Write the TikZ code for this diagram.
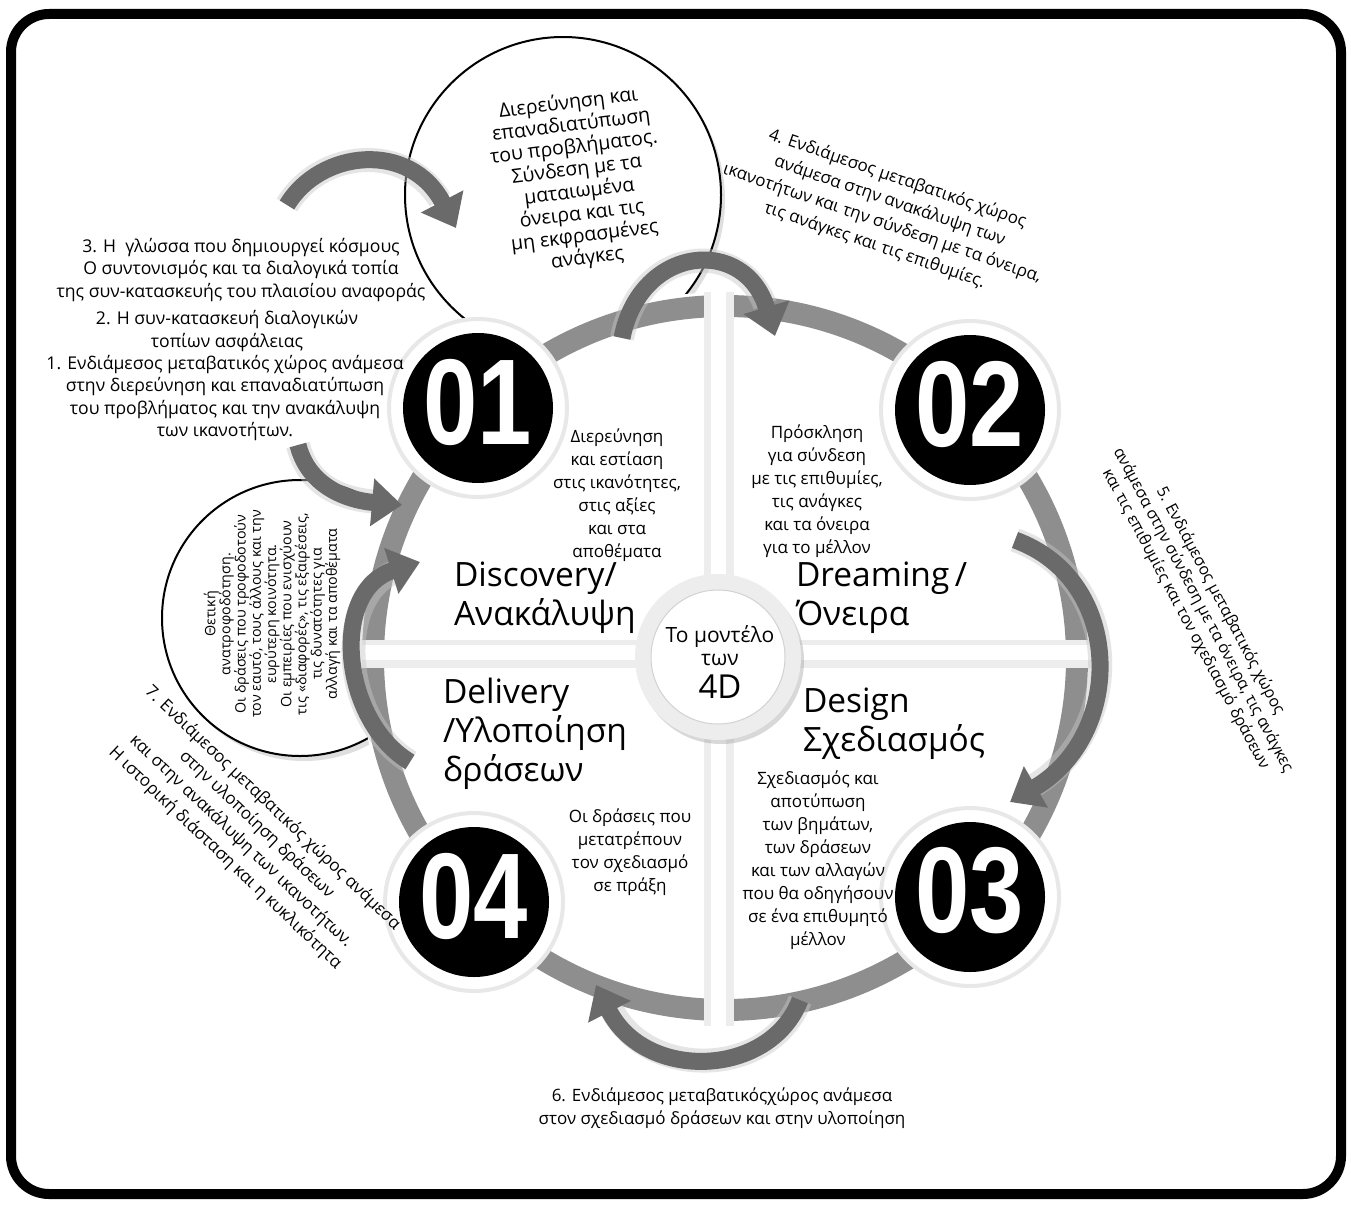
\documentclass[tikz,border=0pt]{standalone}
\usepackage{fontspec}
\setmainfont{Open Sans}
\newfontfamily\numfont{Liberation Sans}
\usetikzlibrary{arrows.meta,shadows}
\definecolor{ringgray}{HTML}{8E8E8E}
\definecolor{brushgray}{HTML}{6A6A6A}
\begin{document}
\begin{tikzpicture}[x=1pt,y=-1pt,
  every node/.style={inner sep=0pt, outer sep=0pt},
  txt/.style={align=center, font=\fontsize{17.6}{22.3}\selectfont},
  desc/.style={align=center, font=\fontsize{17}{23}\selectfont},
  ttl/.style={align=left, anchor=west, font=\fontsize{33.5}{39}\selectfont},
  halo/.style={circle, fill=white, draw=gray!18, line width=4pt, minimum size=178pt},
  numdisk/.style={circle, fill=black, minimum size=150pt},
  numtxt/.style={text=white, font=\numfont\bfseries\fontsize{122}{122}\selectfont},
  brush/.style={draw=brushgray, line width=17pt, -{Triangle[length=30pt,width=46pt]}},
  fuzz/.style={draw=gray!45, line width=24pt, opacity=0.45},
  bubble/.style={circle, draw=black, line width=2pt, fill=white,
    drop shadow={opacity=0.25, shadow xshift=4pt, shadow yshift=-5pt}},
]
\fill[white] (0,0) rectangle (1351,1204);
\useasboundingbox (0,0) rectangle (1351,1204);

% side bubbles
\node[bubble, minimum size=276pt] (lc) at (300,618) {};
\node[bubble, minimum size=316pt] (tc) at (563,195) {};

% main disk and ring
\fill[white] (725,658) circle (366);
\draw[ringgray, line width=22pt] (725,658) circle (352);

% cross separating the quadrants
\fill[gray!14] (704,292) rectangle (734,1026);
\fill[gray!14] (362,640) rectangle (1092,668);
\fill[white] (711,288) rectangle (726,1030);
\fill[white] (358,645) rectangle (1096,660);

% number circles
\node[halo] (h1) at (478,408) {};
\node[halo] (h2) at (970,410) {};
\node[halo] (h3) at (970,897) {};
\node[halo] (h4) at (474,902) {};
\node[numdisk] (n1) at (h1) {};
\node[numdisk] (n2) at (h2) {};
\node[numdisk] (n3) at (h3) {};
\node[numdisk] (n4) at (h4) {};
\node[numtxt] (d1) at (478,402) {\scalebox{0.8}[1]{01}};
\node[numtxt] (d2) at (970,404) {\scalebox{0.8}[1]{02}};
\node[numtxt] (d3) at (970,891) {\scalebox{0.8}[1]{03}};
\node[numtxt] (d4) at (474,896) {\scalebox{0.8}[1]{04}};

% centre circle
\node[circle, fill=gray!14, minimum size=166pt,
  drop shadow={opacity=0.3, shadow xshift=3pt, shadow yshift=-4pt}] (co) at (718,657) {};
\node[circle, fill=white, draw=gray!35, line width=1pt, minimum size=134pt] (ci) at (718,657) {};
\node[align=center, font=\fontsize{21}{23}\selectfont] (ct) at (720,662)
  {Το μοντέλο\\των\\[9pt]{\fontsize{33}{33}\selectfont 4D}};

% brush arrows
\coordinate (a1s) at (287,205); \coordinate (a1e) at (456,228);
\draw[fuzz] (a1s) .. controls (320,150) and (405,142) .. (440,200);
\draw[brush] (a1s) .. controls (320,150) and (410,140) .. (a1e);
\coordinate (a2s) at (622,338); \coordinate (a2e) at (775,336);
\draw[fuzz] (a2s) .. controls (640,245) and (740,238) .. (765,305);
\draw[brush] (a2s) .. controls (640,245) and (745,235) .. (a2e);
\coordinate (a3s) at (1015,540); \coordinate (a3e) at (1010,802);
\draw[fuzz] (a3s) .. controls (1125,580) and (1125,730) .. (1035,785);
\draw[brush] (a3s) .. controls (1125,580) and (1125,735) .. (a3e);
\coordinate (a4s) at (800,1000); \coordinate (a4e) at (596,985);
\draw[fuzz] (a4s) .. controls (770,1078) and (648,1080) .. (612,1010);
\draw[brush] (a4s) .. controls (770,1078) and (645,1082) .. (a4e);
\coordinate (a5s) at (410,762); \coordinate (a5e) at (420,562);
\draw[fuzz] (a5s) .. controls (340,720) and (335,595) .. (395,572);
\draw[brush] (a5s) .. controls (340,720) and (330,590) .. (a5e);
\coordinate (a6s) at (298,445); \coordinate (a6e) at (402,505);
\draw[fuzz] (a6s) .. controls (308,485) and (340,500) .. (380,502);
\draw[brush] (a6s) .. controls (308,485) and (345,500) .. (a6e);

% quadrant texts
\node[desc] (q1) at (617,495) {Διερεύνηση\\και εστίαση\\στις ικανότητες,\\στις αξίες\\και στα\\αποθέματα};
\node[desc] (q2) at (817,491) {Πρόσκληση\\για σύνδεση\\με τις επιθυμίες,\\τις ανάγκες\\και τα όνειρα\\για το μέλλον};
\node[desc] (q3) at (818,860) {Σχεδιασμός και\\αποτύπωση\\των βημάτων,\\των δράσεων\\και των αλλαγών\\που θα οδηγήσουν\\σε ένα επιθυμητό\\μέλλον};
\node[desc] (q4) at (630,852) {Οι δράσεις που\\μετατρέπουν\\τον σχεδιασμό\\σε πράξη};

\node[ttl] (t1) at (454,598) {Discovery/\\Ανακάλυψη};
\node[ttl] (t2) at (796,598) {Dreaming\,/\\Όνειρα};
\node[ttl] (t3) at (803,724) {Design\\Σχεδιασμός};
\node[ttl] (t4) at (443,734) {Delivery\\/Υλοποίηση\\δράσεων};

% bubble texts
\node[align=center, rotate=7, font=\fontsize{19.5}{22.3}\selectfont] (tct) at (578,181)
  {Διερεύνηση και\\επαναδιατύπωση\\του προβλήματος.\\Σύνδεση με τα\\ματαιωμένα\\όνειρα και τις\\μη εκφρασμένες\\ανάγκες};
\node[align=center, rotate=90, font=\fontsize{14.3}{15.2}\selectfont] (lct) at (272,614)
  {Θετική\\ανατροφοδότηση.\\Οι δράσεις που τροφοδοτούν\\τον εαυτό, τους άλλους και την\\ευρύτερη κοινότητα.\\Οι εμπειρίες που ενισχύουν\\τις «διαφορές», τις εξαιρέσεις,\\τις δυνατότητες για\\αλλαγή και τα αποθέματα};

% outer labels
\node[txt] (l3) at (241,270) {3. Η\ \ γλώσσα που δημιουργεί κόσμους\\Ο συντονισμός και τα διαλογικά τοπία\\της συν-κατασκευής του πλαισίου αναφοράς};
\node[txt] (l2) at (227,331) {2. Η συν-κατασκευή διαλογικών\\τοπίων ασφάλειας};
\node[txt] (l1) at (225,398) {1. Ενδιάμεσος μεταβατικός χώρος ανάμεσα\\στην διερεύνηση και επαναδιατύπωση\\του προβλήματος και την ανακάλυψη\\των ικανοτήτων.};
\node[txt, rotate=-19, font=\fontsize{17}{23.5}\selectfont] (l4) at (886,212) {4. Ενδιάμεσος μεταβατικός χώρος\\ανάμεσα στην ανακάλυψη των\\ικανοτήτων και την σύνδεση με τα όνειρα,\\τις ανάγκες και τις επιθυμίες.};
\node[txt, rotate=-62, font=\fontsize{16}{19.5}\selectfont] (l5) at (1203,610) {5. Ενδιάμεσος μεταβατικός χώρος\\ανάμεσα στην σύνδεση με τα όνειρα, τις ανάγκες\\και τις επιθυμίες και τον σχεδιασμό δράσεων};
\node[txt, font=\fontsize{17}{23}\selectfont] (l6) at (722,1108) {6. Ενδιάμεσος μεταβατικόςχώρος ανάμεσα\\στον σχεδιασμό δράσεων και στην υλοποίηση};
\node[txt, rotate=-43.5, font=\fontsize{17}{23}\selectfont] (l7) at (249,833) {7. Ενδιάμεσος μεταβατικός χώρος ανάμεσα\\στην υλοποίηση δράσεων\\και στην ανακάλυψη των ικανοτήτων.\\Η ιστορική διάσταση και η κυκλικότητα};

% frame
\draw[line width=10pt, rounded corners=38pt] (11,14) rectangle (1341,1194);
\end{tikzpicture}
\end{document}
